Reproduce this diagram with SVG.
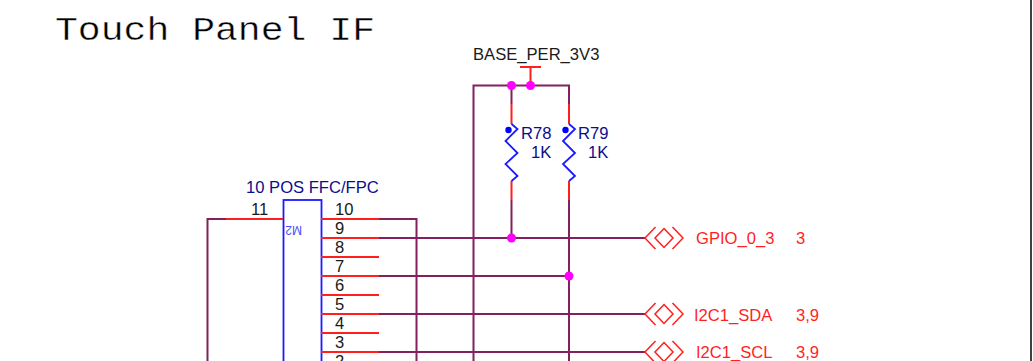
<svg xmlns="http://www.w3.org/2000/svg" width="1033" height="361" viewBox="0 0 1033 361">
<style>
text{font-family:"Liberation Sans",Arial,sans-serif;font-size:16.6px}
.w{fill:none;stroke:#84205f;stroke-width:2}
.r{fill:none;stroke:#ff1f1f;stroke-width:2}
.b{fill:none;stroke:#1a1aff;stroke-width:1.8}
.j{fill:#ff00ff}
.k{fill:#1a1a1a}
.n{fill:#0d0d8c}
.s{fill:#ff1f1f}
.p{fill:none;stroke:#ff1f1f;stroke-width:1.5;stroke-linecap:square}
</style>
<defs>
<path id="port" class="p" d="M10 -10.500L0 0L10 10.500M19 -9.500L28 0L19 9.500L10 0ZM28 -10.500L38 0L28 10.500"/>
<path id="zig" class="b" d="M0 124L6 129L-6 141L6 153L-6 164L6 176L0 181"/>
</defs>
<rect width="1033" height="361" fill="#fff"/>
<path d="M1031 0V361" stroke="#000" stroke-width="1.5" fill="none"/>
<text x="55" y="40" textLength="320" lengthAdjust="spacingAndGlyphs" style="font-family:'Liberation Mono',monospace;font-size:34px;stroke:#fff;stroke-width:.4" fill="#000">Touch Panel IF</text>
<g id="connectors">
<path class="w" d="M473.500 361V85.500H569V104M511.500 85.500V104M511.500 200V238M569 200V361"/>
<path class="w" d="M379 219H416.500V361M379 238H646M379 276H569M379 314H646M379 352H646M226 219H207.500V361"/>
</g>
<g id="power"><path class="r" d="M520 67H541M530.500 67V85"/><text class="k" x="473" y="60">BASE_PER_3V3</text></g>
<g id="R78">
<path class="r" d="M511.500 104V124M511.500 181V200"/><use href="#zig" x="511.500"/>
<circle cx="508.500" cy="130" r="3.200" fill="#0000ff"/>
<text class="n" x="521" y="139">R78</text><text class="n" x="531" y="158">1K</text></g>
<g id="R79">
<path class="r" d="M569 104V124M569 181V200"/><use href="#zig" x="569"/>
<circle cx="565.500" cy="130" r="3.200" fill="#0000ff"/>
<text class="n" x="578" y="139">R79</text><text class="n" x="588" y="158">1K</text></g>
<g id="M2">
<rect class="b" x="283.500" y="200" width="38" height="175"/>
<path class="r" d="M226 219H283M321 219H379M321 238H379M321 257H379M321 276H379M321 295H379M321 314H379M321 333H379M321 352H379"/>
<text class="n" x="246" y="193">10 POS FFC/FPC</text>
<text class="k" x="251" y="215">11</text>
<text class="k" x="335" y="215">10</text>
<text class="k" x="335" y="234">9</text><text class="k" x="335" y="253">8</text><text class="k" x="335" y="272">7</text><text class="k" x="335" y="291">6</text><text class="k" x="335" y="310">5</text><text class="k" x="335" y="329">4</text><text class="k" x="335" y="348">3</text><text class="k" x="335" y="367">2</text>
<text transform="translate(302 226) rotate(180)" style="font-size:12px" fill="#4a4aff">M2</text>
</g>
<g id="GPIO_0_3"><use href="#port" x="645" y="238"/><text class="s" x="696" y="244">GPIO_0_3</text><text class="s" x="796" y="244">3</text></g>
<g id="I2C1_SDA"><use href="#port" x="645" y="314"/><text class="s" x="694" y="321">I2C1_SDA</text><text class="s" x="796" y="321">3,9</text></g>
<g id="I2C1_SCL"><use href="#port" x="645" y="352"/><text class="s" x="696" y="358">I2C1_SCL</text><text class="s" x="796" y="358">3,9</text></g>
<g id="junctions">
<circle class="j" cx="511.500" cy="85.500" r="4.500"/><circle class="j" cx="530.500" cy="85.500" r="4.500"/><circle class="j" cx="511.500" cy="238" r="4.500"/><circle class="j" cx="569" cy="276" r="4.500"/>
</g>
</svg>
